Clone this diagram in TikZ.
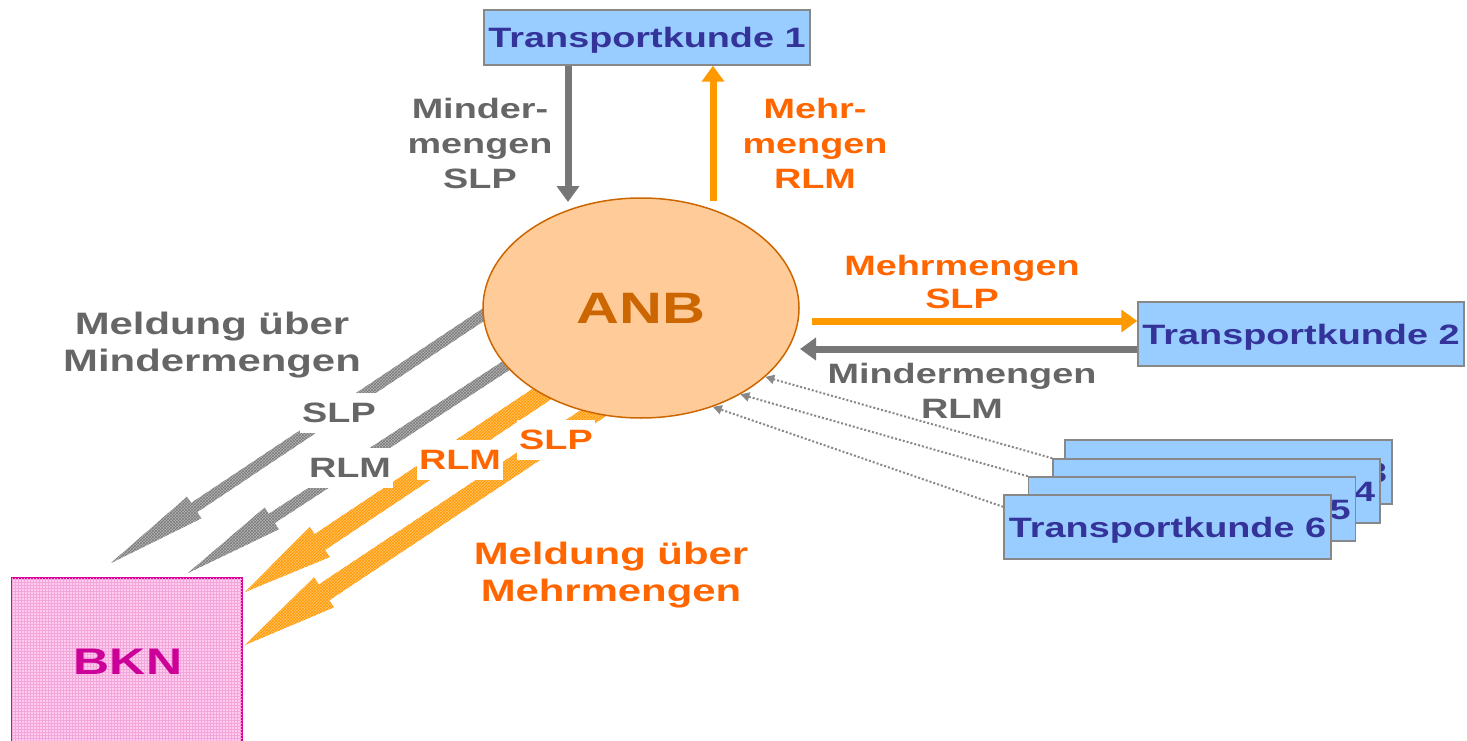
\documentclass[tikz,border=0pt]{standalone}
\usepackage{fontspec}
\setmainfont{Liberation Sans}
\usetikzlibrary{shapes.geometric,arrows.meta,patterns}
\definecolor{tkblue}{HTML}{99CCFF}
\definecolor{tkdark}{HTML}{333399}
\definecolor{boxgray}{HTML}{888888}
\definecolor{txtgray}{HTML}{666666}
\definecolor{txtorange}{HTML}{FF6600}
\definecolor{arrgray}{HTML}{777777}
\definecolor{arrorange}{HTML}{FF9900}
\definecolor{anbfill}{HTML}{FFCC99}
\definecolor{anbline}{HTML}{CC6600}
\definecolor{bknfill}{HTML}{FFCCEE}
\definecolor{bknline}{HTML}{DD0099}
\definecolor{bkntext}{HTML}{CC0099}
\definecolor{hgray}{HTML}{B4B4B4}
\definecolor{hgrayd}{HTML}{7A7A7A}
\definecolor{horange}{HTML}{FFC266}
\definecolor{horanged}{HTML}{FF9900}
\newcommand\sx[1]{\scalebox{1.35}[1]{#1}}
\newcommand\blkarrow[7]{\fill[#1, shift={#2}, rotate=#3] (0,0) -- (#6,#7) -- (#6,#5) -- (#4,#5) -- (#4,-#5) -- (#6,-#5) -- (#6,-#7) -- cycle;}
\begin{document}
\begin{tikzpicture}[x=1pt,y=-1pt,
  txt/.style={font=\bfseries\fontsize{28}{35}\selectfont, align=center, inner sep=1pt},
  bigtxt/.style={font=\bfseries\fontsize{31}{37}\selectfont, align=center, inner sep=1pt},
  tkbox/.style={draw=boxgray, line width=1.5pt, fill=tkblue, minimum width=326pt, minimum height=64pt, inner sep=0pt, text depth=0pt, text=tkdark, font=\bfseries\fontsize{28}{34}\selectfont},
  garrow/.style={draw=arrgray, line width=7pt, -{Triangle[width=22pt,length=16pt]}},
  oarrow/.style={draw=arrorange, line width=7pt, -{Triangle[width=22pt,length=16pt]}},
  dotarrow/.style={draw=boxgray, line width=2pt, dash pattern=on 2pt off 2pt, -{Triangle[width=9pt,length=9pt]}},
  ghatch/.style={fill=hgray, postaction={pattern=crosshatch, pattern color=hgrayd}},
  ohatch/.style={fill=horange, postaction={pattern=crosshatch, pattern color=horanged}},
  cover/.style={txt, fill=white, minimum height=40pt, inner sep=2pt}]
\useasboundingbox (0,0) rectangle (1467,741);

% BKN
\node[draw=bknline, line width=1.5pt, fill=bknfill, postaction={pattern=grid, pattern color=bknline!35}, minimum width=230pt, minimum height=172pt] (bkn) at (127,664) {};
\node[font=\bfseries\fontsize{37}{40}\selectfont, text=bkntext] (bknt) at (128,662) {\sx{BKN}};

% hatched block arrows
\blkarrow{ghatch}{(111,563)}{33.7}{456}{5.5}{100}{13}
\blkarrow{ghatch}{(188,573)}{33.1}{390}{5.5}{100}{13}
\blkarrow{ohatch}{(245,592)}{33.7}{375}{9.5}{90}{18}
\blkarrow{ohatch}{(245,645)}{33.65}{440}{9.5}{95}{18}

% ANB
\node[ellipse, draw=anbline, line width=1.5pt, fill=anbfill, minimum width=316pt, minimum height=220pt, inner sep=0pt] (anb) at (641,308) {};
\node[font=\bfseries\fontsize{44}{48}\selectfont, text=anbline] (anbt) at (641,308) {\sx{ANB}};

% Transportkunden
\node[tkbox, minimum height=55pt] (tk1) at (647,37.5) {\sx{Transportkunde 1}};
\node[tkbox] (tk2) at (1301,334) {\sx{Transportkunde 2}};
\node[tkbox, minimum width=327pt] (tk3) at (1228.5,472) {\sx{Transportkunde 3}};
\node[tkbox, minimum width=327pt] (tk4) at (1216.5,491) {\sx{Transportkunde 4}};
\node[tkbox, minimum width=327pt] (tk5) at (1192,509) {\sx{Transportkunde 5}};
\node[tkbox, minimum width=327pt] (tk6) at (1167.5,527) {\sx{Transportkunde 6}};

% straight arrows
\coordinate (a1) at (568,202);
\coordinate (b1) at (713,201);
\coordinate (c1) at (812,321);
\coordinate (d1) at (800,349);
\draw[garrow] (tk1.south -| a1) -- (a1);
\draw[oarrow] (b1) -- (tk1.south -| b1);
\draw[oarrow] (c1) -- (tk2.west |- c1);
\draw[garrow] (tk2.west |- d1) -- (d1);

% dotted arrows
\draw[dotarrow] (tk4.north west) -- (anb.-29.5);
\draw[dotarrow] (tk5.north west) -- (anb.-41.6);
\draw[dotarrow] (tk6.173.4) -- (anb.-54.5);

% labels
\node[txt, text=txtgray] (l1) at (480,143) {\sx{Minder-}\\\sx{mengen}\\\sx{SLP}};
\node[txt, text=txtorange] (l2) at (815,143) {\sx{Mehr-}\\\sx{mengen}\\\sx{RLM}};
\node[txt, text=txtorange, font=\bfseries\fontsize{28}{33}\selectfont] (l3) at (962,282) {\sx{Mehrmengen}\\\sx{SLP}};
\node[txt, text=txtgray] (l4) at (962,391) {\sx{Mindermengen}\\\sx{RLM}};
\node[bigtxt, text=txtgray] (l5) at (212,345) {\sx{Meldung über}\\\sx{Mindermengen}};
\node[bigtxt, text=txtorange] (l6) at (611,575) {\sx{Meldung über}\\\sx{Mehrmengen}};
\node[cover, text=txtgray] (l7) at (339,413) {\sx{SLP}};
\node[cover, text=txtgray] (l8) at (350,468) {\sx{RLM}};
\node[cover, text=txtorange] (l9) at (460,460) {\sx{RLM}};
\node[cover, text=txtorange] (l10) at (556,440) {\sx{SLP}};
\end{tikzpicture}
\end{document}
